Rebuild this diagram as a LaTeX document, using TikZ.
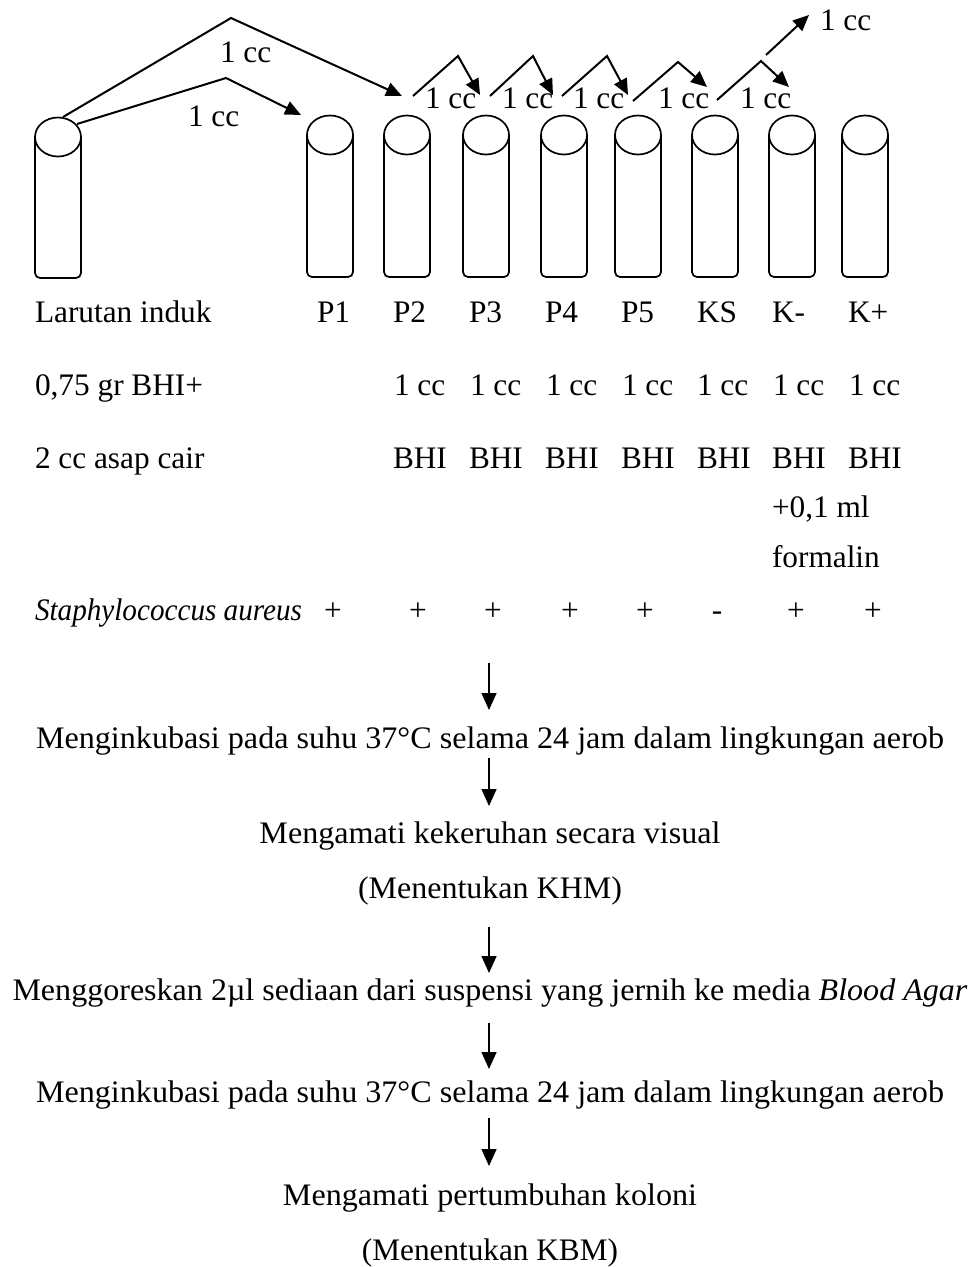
\documentclass[tikz,border=0pt]{standalone}
\usepackage{fontspec}
\setmainfont{Liberation Serif}
\usetikzlibrary{arrows.meta}
\begin{document}
\begin{tikzpicture}[x=1pt,y=-1pt,
  txt/.style={inner sep=0pt,outer sep=0pt,font=\fontsize{31.3}{36}\selectfont},
  lft/.style={txt,anchor=base west},
  ctr/.style={txt,anchor=base},
  tubeline/.style={line width=1.7pt},
  cc/.style={line width=2pt,-{Triangle[length=16pt,width=14pt]}},
  flow/.style={line width=1.5pt,-{Triangle[length=17pt,width=15pt]}}]
\useasboundingbox (0,0) rectangle (970,1267);

% tubes
\newcommand\tubedraw[4]{%
  \draw[tubeline,rounded corners=5pt] (#2-23,#3) -- (#2-23,#4) -- (#2+23,#4) -- (#2+23,#3);
  \draw[tubeline,fill=white] (#2,#3) ellipse [x radius=23pt,y radius=19.5pt];
  \coordinate (#1) at (#2,#3);}
\tubedraw{tLI}{58}{137}{278}
\tubedraw{tP1}{330}{135}{277}
\tubedraw{tP2}{407}{135}{277}
\tubedraw{tP3}{486}{135}{277}
\tubedraw{tP4}{564}{135}{277}
\tubedraw{tP5}{638}{135}{277}
\tubedraw{tKS}{715}{135}{277}
\tubedraw{tKm}{792}{135}{277}
\tubedraw{tKp}{865}{135}{277}

% big arrows from stock
\coordinate (bA) at (63,117);
\coordinate (bB) at (231,18);
\coordinate (bC) at (402,96);
\coordinate (lA) at (77,124);
\coordinate (lB) at (226,78);
\coordinate (lC) at (301,115);
\draw[cc] (bA) -- (bB) -- (bC);
\draw[cc] (lA) -- (lB) -- (lC);
\node[lft] (lbB) at (220,62) {1 cc};
\node[lft] (lbL) at (188,126) {1 cc};

% small serial arrows
\coordinate (s1a) at (413,96); \coordinate (s1b) at (458,56); \coordinate (s1c) at (480,95);
\coordinate (s2a) at (490,96); \coordinate (s2b) at (533,56); \coordinate (s2c) at (553,95);
\coordinate (s3a) at (562,96); \coordinate (s3b) at (607,56); \coordinate (s3c) at (628,95);
\coordinate (s4a) at (633,101); \coordinate (s4b) at (678,62); \coordinate (s4c) at (707,87);
\coordinate (s5a) at (717,100); \coordinate (s5b) at (761,61); \coordinate (s5c) at (789,87);
\coordinate (s6a) at (766,55); \coordinate (s6b) at (809,15);
\draw[cc] (s1a) -- (s1b) -- (s1c);
\draw[cc] (s2a) -- (s2b) -- (s2c);
\draw[cc] (s3a) -- (s3b) -- (s3c);
\draw[cc] (s4a) -- (s4b) -- (s4c);
\draw[cc] (s5a) -- (s5b) -- (s5c);
\draw[cc] (s6a) -- (s6b);
\node[lft] (l1) at (425,108) {1 cc};
\node[lft] (l2) at (502,108) {1 cc};
\node[lft] (l3) at (573,108) {1 cc};
\node[lft] (l4) at (658,108) {1 cc};
\node[lft] (l5) at (740,108) {1 cc};
\node[lft] (l6) at (820,30) {1 cc};

% row 1
\node[lft] (r1a) at (35,322) {Larutan induk};
\node[lft] (r1b) at (317,322) {P1};
\node[lft] (r1c) at (393,322) {P2};
\node[lft] (r1d) at (469,322) {P3};
\node[lft] (r1e) at (545,322) {P4};
\node[lft] (r1f) at (621,322) {P5};
\node[lft] (r1g) at (697,322) {KS};
\node[lft] (r1h) at (772,322) {K-};
\node[lft] (r1i) at (848,322) {K+};

% row 2
\node[lft] (r2a) at (35,395) {0,75 gr BHI+};
\node[lft] (r2c) at (394,395) {1 cc};
\node[lft] (r2d) at (470,395) {1 cc};
\node[lft] (r2e) at (546,395) {1 cc};
\node[lft] (r2f) at (622,395) {1 cc};
\node[lft] (r2g) at (697,395) {1 cc};
\node[lft] (r2h) at (773,395) {1 cc};
\node[lft] (r2i) at (849,395) {1 cc};

% row 3
\node[lft] (r3a) at (35,468) {2 cc asap cair};
\node[lft] (r3c) at (393,468) {BHI};
\node[lft] (r3d) at (469,468) {BHI};
\node[lft] (r3e) at (545,468) {BHI};
\node[lft] (r3f) at (621,468) {BHI};
\node[lft] (r3g) at (697,468) {BHI};
\node[lft] (r3h) at (772,468) {BHI};
\node[lft] (r3i) at (848,468) {BHI};
\node[lft] (r3j) at (772,517) {+0,1 ml};
\node[lft] (r3k) at (772,567) {formalin};

% row 4
\node[lft] (r4a) at (35,620) {\resizebox{267pt}{\height}{\itshape Staphylococcus aureus}};
\node[ctr] (r4b) at (333,620) {+};
\node[ctr] (r4c) at (418,620) {+};
\node[ctr] (r4d) at (493,620) {+};
\node[ctr] (r4e) at (570,620) {+};
\node[ctr] (r4f) at (645,620) {+};
\node[ctr] (r4g) at (717,620) {-};
\node[ctr] (r4h) at (796,620) {+};
\node[ctr] (r4i) at (873,620) {+};

% flow
\node[ctr] (f1) at (490,748) {\resizebox{908pt}{\height}{Menginkubasi pada suhu 37°C selama 24 jam dalam lingkungan aerob}};
\node[ctr] (f2) at (490,843) {\resizebox{461pt}{\height}{Mengamati kekeruhan secara visual}};
\node[ctr] (f2b) at (490,898) {\resizebox{264pt}{\height}{(Menentukan KHM)}};
\node[ctr] (f3) at (490,1000) {\resizebox{955pt}{\height}{Menggoreskan 2µl sediaan dari suspensi yang jernih ke media \textit{Blood Agar}}};
\node[ctr] (f4) at (490,1102) {\resizebox{908pt}{\height}{Menginkubasi pada suhu 37°C selama 24 jam dalam lingkungan aerob}};
\node[ctr] (f5) at (490,1205) {\resizebox{414pt}{\height}{Mengamati pertumbuhan koloni}};
\node[ctr] (f5b) at (490,1260) {\resizebox{256pt}{\height}{(Menentukan KBM)}};

\coordinate (a1s) at (489,663); \coordinate (a1e) at (489,710);
\coordinate (a2s) at (489,758); \coordinate (a2e) at (489,806);
\coordinate (a3s) at (489,927); \coordinate (a3e) at (489,973);
\coordinate (a4s) at (489,1023); \coordinate (a4e) at (489,1069);
\coordinate (a5s) at (489,1118); \coordinate (a5e) at (489,1166);
\draw[flow] (a1s) -- (a1e);
\draw[flow] (a2s) -- (a2e);
\draw[flow] (a3s) -- (a3e);
\draw[flow] (a4s) -- (a4e);
\draw[flow] (a5s) -- (a5e);
\end{tikzpicture}
\end{document}
